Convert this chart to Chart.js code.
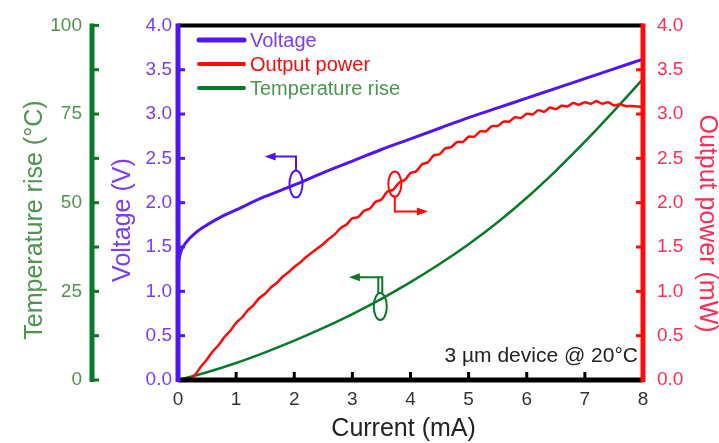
<!DOCTYPE html>
<html lang="en">
<head>
<meta charset="UTF-8" />
<title>Voltage / power / temperature vs current</title>
<script src="https://cdn.jsdelivr.net/npm/chart.js"></script>
<style>
  body { margin: 0; background: #fff; }
  #wrap { width: 719px; height: 443px; }
</style>
</head>
<body>
<div id="wrap"><canvas id="chart" width="719" height="443"></canvas></div>
<script>
// x ticks / axis ranges
const currentTicks = [0, 1, 2, 3, 4, 5, 6, 7, 8];
const voltageTicks = [0, 0.5, 1, 1.5, 2, 2.5, 3, 3.5, 4];
const tempTicks = [0, 25, 50, 75, 100];

// voltage curve (V)
const vCurrent = [0, 0.05, 0.15, 0.3, 0.5, 0.8, 1, 1.5, 2, 2.5, 3, 3.5, 4, 4.5, 5, 5.5, 6, 6.5, 7, 7.5, 8];
const vValues  = [1.30, 1.45, 1.56, 1.66, 1.75, 1.86, 1.92, 2.07, 2.20, 2.34, 2.47, 2.60, 2.72, 2.84, 2.96, 3.07, 3.18, 3.29, 3.40, 3.51, 3.62];

// output power curve (mW), wavy near rollover
const pCurrent = [0.2, 0.3, 0.4, 0.5, 0.6, 0.7, 0.8, 0.9, 1.0, 1.1, 1.2, 1.3, 1.4, 1.5, 1.6, 1.7, 1.8, 1.9,
  2.0, 2.1, 2.2, 2.3, 2.4, 2.5, 2.6, 2.7, 2.8, 2.9, 3.0, 3.1, 3.2, 3.3, 3.4, 3.5, 3.6, 3.7, 3.8, 3.9,
  4.0, 4.1, 4.2, 4.3, 4.4, 4.5, 4.6, 4.7, 4.8, 4.9, 5.0, 5.1, 5.2, 5.3, 5.4, 5.5, 5.6, 5.7, 5.8, 5.9,
  6.0, 6.1, 6.2, 6.3, 6.4, 6.5, 6.6, 6.7, 6.8, 6.9, 7.0, 7.1, 7.2, 7.3, 7.4, 7.5, 7.6, 7.7, 7.8, 7.9, 8.0];
const pValues = [0.000, 0.065, 0.155, 0.235, 0.325, 0.395, 0.485, 0.555, 0.645, 0.705, 0.785, 0.845, 0.925, 0.975, 1.045, 1.095, 1.165, 1.215,
  1.275, 1.325, 1.385, 1.435, 1.485, 1.535, 1.595, 1.645, 1.715, 1.755, 1.824, 1.838, 1.908, 1.934, 2.010, 2.036, 2.124, 2.146, 2.224, 2.256,
  2.334, 2.356, 2.434, 2.456, 2.534, 2.546, 2.614, 2.626, 2.684, 2.686, 2.744, 2.746, 2.804, 2.806, 2.864, 2.866, 2.914, 2.916, 2.964, 2.956,
  3.004, 2.996, 3.044, 3.026, 3.074, 3.056, 3.094, 3.086, 3.124, 3.106, 3.134, 3.116, 3.144, 3.116, 3.134, 3.096, 3.110, 3.090, 3.090, 3.085, 3.080];

// temperature rise curve (deg C)
const tCurrent = [0, 0.5, 1, 1.5, 2, 2.5, 3, 3.5, 4, 4.5, 5, 5.5, 6, 6.5, 7, 7.5, 8];
const tValues  = [0, 2.2, 4.8, 7.8, 11.1, 14.7, 18.6, 22.9, 27.6, 32.7, 38.3, 44.5, 51.4, 59.0, 67.2, 75.9, 84.9];

const PURPLE = '#5014f5', PURPLE_TXT = '#7a3cff';
const RED = '#ff0a0a', RED_TXT = '#ff2d55';
const GREEN = '#0a7a28', GREEN_TXT = '#4f9450';
const FONT = "'Liberation Sans', Arial, sans-serif";

function pts(xs, ys) { return xs.map((x, i) => ({ x: x, y: ys[i] })); }

function arrowHead(ctx, x, y, dir, color) {
  ctx.fillStyle = color;
  ctx.beginPath();
  ctx.moveTo(x, y);
  ctx.lineTo(x - dir * 11, y - 4);
  ctx.lineTo(x - dir * 11, y + 4);
  ctx.closePath();
  ctx.fill();
}

const decor = {
  id: 'decor',
  afterDatasetsDraw(chart) {
    const ctx = chart.ctx;
    const { left, right, top, bottom } = chart.chartArea;
    const sx = chart.scales.x, sv = chart.scales.yV, sp = chart.scales.yP, st = chart.scales.yT;
    ctx.save();
    ctx.lineCap = 'butt';

    // black frame top / bottom
    ctx.strokeStyle = '#000';
    ctx.lineWidth = 4;
    ctx.beginPath(); ctx.moveTo(left, top); ctx.lineTo(right, top); ctx.stroke();
    ctx.lineWidth = 5;
    ctx.beginPath(); ctx.moveTo(left, bottom); ctx.lineTo(right, bottom); ctx.stroke();
    ctx.lineWidth = 3;
    currentTicks.slice(1, -1).forEach(v => {
      const px = sx.getPixelForValue(v);
      ctx.beginPath(); ctx.moveTo(px, bottom); ctx.lineTo(px, bottom - 8); ctx.stroke();
    });

    // voltage axis
    ctx.strokeStyle = PURPLE;
    ctx.lineWidth = 5;
    ctx.beginPath(); ctx.moveTo(left, top - 2); ctx.lineTo(left, bottom + 2); ctx.stroke();
    ctx.lineWidth = 3;
    voltageTicks.slice(1, -1).forEach(v => {
      const py = sv.getPixelForValue(v);
      ctx.beginPath(); ctx.moveTo(left, py); ctx.lineTo(left + 7, py); ctx.stroke();
    });

    // power axis
    ctx.strokeStyle = RED;
    ctx.lineWidth = 5;
    ctx.beginPath(); ctx.moveTo(right, top - 2); ctx.lineTo(right, bottom + 2); ctx.stroke();
    ctx.lineWidth = 3;
    voltageTicks.slice(1, -1).forEach(v => {
      const py = sp.getPixelForValue(v);
      ctx.beginPath(); ctx.moveTo(right, py); ctx.lineTo(right - 7, py); ctx.stroke();
    });

    // temperature axis (major + half ticks)
    const tx = st.right;
    ctx.strokeStyle = GREEN;
    ctx.lineWidth = 5;
    ctx.beginPath(); ctx.moveTo(tx, top - 2); ctx.lineTo(tx, bottom + 2); ctx.stroke();
    ctx.lineWidth = 3;
    for (let v = 0; v <= 100; v += 12.5) {
      const py = st.getPixelForValue(v);
      ctx.beginPath(); ctx.moveTo(tx, py); ctx.lineTo(tx + 7, py); ctx.stroke();
    }

    // legend
    const legend = [['Voltage', PURPLE, PURPLE_TXT, 5], ['Output power', RED, RED, 4], ['Temperature rise', GREEN, GREEN_TXT, 4]];
    ctx.font = '20px ' + FONT;
    ctx.textBaseline = 'middle';
    ctx.textAlign = 'left';
    legend.forEach((l, i) => {
      const y = 40 + i * 24;
      ctx.strokeStyle = l[1];
      ctx.lineWidth = l[3];
      ctx.lineCap = 'round';
      ctx.beginPath(); ctx.moveTo(199, y); ctx.lineTo(244, y); ctx.stroke();
      ctx.fillStyle = l[2];
      ctx.fillText(l[0], 250, y + 1);
    });
    ctx.lineCap = 'butt';

    // annotations: ellipse + elbow arrow
    ctx.lineWidth = 2;
    // voltage -> left
    let cx = sx.getPixelForValue(2.03), cy = sv.getPixelForValue(2.21);
    ctx.strokeStyle = PURPLE;
    ctx.beginPath(); ctx.ellipse(cx, cy, 6.5, 13.5, 0, 0, Math.PI * 2); ctx.stroke();
    let ay = sv.getPixelForValue(2.52), ax = sx.getPixelForValue(1.49);
    ctx.beginPath(); ctx.moveTo(cx, cy - 13.5); ctx.lineTo(cx, ay); ctx.lineTo(ax + 8, ay); ctx.stroke();
    arrowHead(ctx, ax, ay, -1, PURPLE);

    // power -> right
    cx = sx.getPixelForValue(3.73); cy = sp.getPixelForValue(2.21);
    ctx.strokeStyle = RED;
    ctx.beginPath(); ctx.ellipse(cx, cy, 6.5, 12.5, 0, 0, Math.PI * 2); ctx.stroke();
    ay = sp.getPixelForValue(1.90); ax = sx.getPixelForValue(4.3);
    ctx.beginPath(); ctx.moveTo(cx, cy + 12.5); ctx.lineTo(cx, ay); ctx.lineTo(ax - 8, ay); ctx.stroke();
    arrowHead(ctx, ax, ay, 1, RED);

    // temperature -> left
    cx = sx.getPixelForValue(3.48); cy = st.getPixelForValue(20.7);
    ctx.strokeStyle = GREEN;
    ctx.beginPath(); ctx.ellipse(cx, cy, 6.5, 13.5, 0, 0, Math.PI * 2); ctx.stroke();
    ay = st.getPixelForValue(29.0); ax = sx.getPixelForValue(2.94);
    ctx.beginPath();
    ctx.moveTo(cx - 2, cy - 13); ctx.lineTo(cx - 2, ay); ctx.lineTo(ax + 8, ay);
    ctx.moveTo(cx + 2, cy - 13); ctx.lineTo(cx + 2, ay); ctx.lineTo(cx - 2, ay);
    ctx.stroke();
    arrowHead(ctx, ax, ay, -1, GREEN);

    // device note
    ctx.font = '21px ' + FONT;
    ctx.fillStyle = '#222';
    ctx.textAlign = 'right';
    ctx.textBaseline = 'middle';
    ctx.fillText('3 \u00b5m device @ 20\u00b0C', right - 5, 356);
    ctx.restore();
  }
};

const tickFont = { family: FONT, size: 19 };
const titleFont = { family: FONT, size: 25, lineHeight: 1 };
const noGrid = { display: false, drawTicks: false };

new Chart(document.getElementById('chart'), {
  type: 'line',
  data: {
    datasets: [
      { label: 'Voltage', data: pts(vCurrent, vValues), yAxisID: 'yV', borderColor: PURPLE, borderWidth: 3,
        pointRadius: 0, cubicInterpolationMode: 'monotone' },
      { label: 'Output power', data: pts(pCurrent, pValues), yAxisID: 'yP', borderColor: RED, borderWidth: 2.5,
        pointRadius: 0, tension: 0.3 },
      { label: 'Temperature rise', data: pts(tCurrent, tValues), yAxisID: 'yT', borderColor: GREEN, borderWidth: 2.5,
        pointRadius: 0, cubicInterpolationMode: 'monotone' }
    ]
  },
  options: {
    responsive: false,
    animation: false,
    devicePixelRatio: 1,
    layout: { padding: { top: 18, left: 0, right: 0, bottom: 0 } },
    plugins: { legend: { display: false }, tooltip: { enabled: false } },
    scales: {
      x: {
        type: 'linear', position: 'bottom', min: 0, max: 8,
        grid: noGrid, border: { display: false },
        ticks: { stepSize: 1, color: '#333', font: tickFont, padding: 8 },
        title: { display: true, text: 'Current (mA)  ', color: '#222', font: titleFont, padding: { top: 0, bottom: 1 } },
        afterFit: s => { s.height = 63; }
      },
      yV: {
        type: 'linear', position: 'left', min: 0, max: 4, weight: 0,
        grid: noGrid, border: { display: false },
        ticks: { stepSize: 0.5, color: PURPLE_TXT, font: tickFont, padding: 6, callback: v => v.toFixed(1) },
        title: { display: true, text: 'Voltage (V)     ', color: PURPLE_TXT, font: titleFont, padding: { top: 19, bottom: 0 } },
        afterFit: s => { s.width = 86; }
      },
      yT: {
        type: 'linear', position: 'left', min: 0, max: 100, weight: 1,
        grid: noGrid, border: { display: false },
        ticks: { stepSize: 25, color: GREEN_TXT, font: tickFont, padding: 10 },
        title: { display: true, text: 'Temperature rise (\u00b0C)     ', color: GREEN_TXT, font: titleFont, padding: { top: 23, bottom: 0 } },
        afterFit: s => { s.width = 92; }
      },
      yP: {
        type: 'linear', position: 'right', min: 0, max: 4,
        grid: noGrid, border: { display: false },
        ticks: { stepSize: 0.5, color: RED_TXT, font: tickFont, padding: 14, callback: v => v.toFixed(1) },
        title: { display: true, text: '      Output power (mW)', color: RED_TXT, font: titleFont, padding: { top: 0, bottom: 0 } },
        afterFit: s => { s.width = 76; }
      }
    }
  },
  plugins: [decor]
});
</script>
</body>
</html>
